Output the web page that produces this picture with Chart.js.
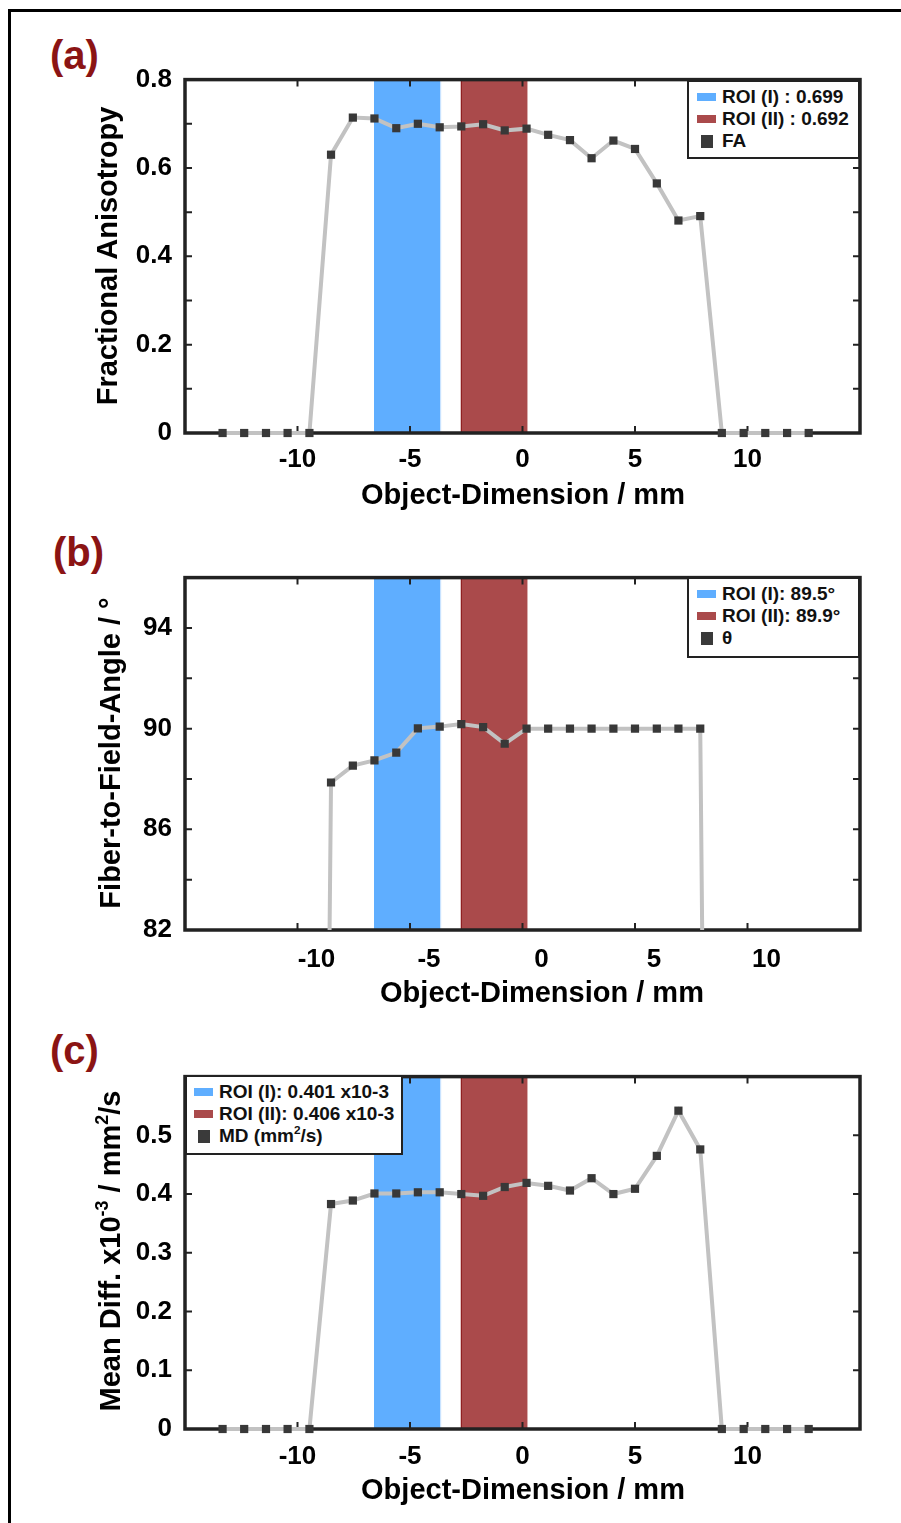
<!DOCTYPE html>
<html>
<head>
<meta charset="utf-8">
<script src="https://cdn.jsdelivr.net/npm/chart.js@4.4.1/dist/chart.umd.min.js"></script>
<style>
html, body { margin: 0; padding: 0; background: #fff; }
body { width: 901px; height: 1523px; position: relative; overflow: hidden;
       font-family: "Liberation Sans", Arial, sans-serif; font-weight: bold; color: #000; }
#frame { position: absolute; left: 8px; top: 9px; width: 900px; height: 1520px;
         border-left: 3px solid #000; border-top: 3px solid #000; }
canvas { position: absolute; left: 0; }
.tag { position: absolute; color: #8b1414; font-size: 40px; line-height: 40px; }
.ytitle { position: absolute; font-size: 29px; white-space: nowrap; transform: translate(-50%, -50%) rotate(-90deg); }
.xtitle { position: absolute; font-size: 29px; white-space: nowrap; transform: translate(-50%, -50%); }
.legend { position: absolute; background: #fff; border: 2.5px solid #222; box-sizing: border-box;
          font-size: 19px; color: #111; }
.legend .row { position: absolute; left: 0; height: 22px; line-height: 22px; white-space: nowrap; }
.legend .patch { position: absolute; }
.legend .txt { position: absolute; top: 0; }
sup { font-size: 62%; vertical-align: 0; position: relative; top: -0.65em; }
</style>
</head>
<body>
<div id="frame"></div>

<div class="tag" style="left:50px; top:35px;">(a)</div>
<div class="tag" style="left:53px; top:532px;">(b)</div>
<div class="tag" style="left:50px; top:1030px;">(c)</div>

<canvas id="chartA" width="901" height="432" style="top:51px;"></canvas>
<canvas id="chartB" width="901" height="431" style="top:549px;"></canvas>
<canvas id="chartC" width="901" height="431" style="top:1048px;"></canvas>

<div class="ytitle" style="left:107px; top:256px;">Fractional Anisotropy</div>
<div class="ytitle" style="left:110px; top:753px;">Fiber-to-Field-Angle / °</div>
<div class="ytitle" style="left:110px; top:1251px;">Mean Diff. x10<sup>-3</sup> / mm<sup>2</sup>/s</div>

<div class="xtitle" style="left:523px; top:494px;">Object-Dimension / mm</div>
<div class="xtitle" style="left:542px; top:992px;">Object-Dimension / mm</div>
<div class="xtitle" style="left:523px; top:1489px;">Object-Dimension / mm</div>

<div id="legendA" class="legend" style="left:687px; top:80px; width:173px; height:79px;"></div>
<div id="legendB" class="legend" style="left:687px; top:577px; width:173px; height:81px;"></div>
<div id="legendC" class="legend" style="left:185px; top:1075px; width:218px; height:80px;"></div>

<script>
// positions along the profile (mm), shared by all three panels
const xPositions = [-13.33, -12.37, -11.40, -10.44, -9.47, -8.51, -7.54, -6.58, -5.61, -4.65,
                    -3.68, -2.72, -1.75, -0.79, 0.18, 1.14, 2.11, 3.07, 4.04, 5.00,
                    5.97, 6.93, 7.90, 8.86, 9.83, 10.79, 11.76, 12.72];

const faValues = [0, 0, 0, 0, 0, 0.630, 0.714, 0.712, 0.690, 0.700,
                  0.692, 0.694, 0.699, 0.685, 0.689, 0.675, 0.663, 0.622, 0.662, 0.643,
                  0.565, 0.481, 0.491, 0, 0, 0, 0, 0];

const thetaValues = [0, 0, 0, 0, 0, 87.86, 88.53, 88.74, 89.05, 90.01,
                     90.08, 90.18, 90.06, 89.40, 90.00, 90.00, 90.00, 90.00, 90.00, 90.00,
                     90.00, 90.00, 90.00, 0, 0, 0, 0, 0];

const mdValues = [0, 0, 0, 0, 0, 0.383, 0.389, 0.401, 0.401, 0.403,
                  0.403, 0.400, 0.397, 0.412, 0.419, 0.414, 0.406, 0.427, 0.400, 0.409,
                  0.465, 0.542, 0.476, 0, 0, 0, 0, 0];

// regions of interest (mm)
const roi1Range = [-6.60, -3.62];
const roi2Range = [-2.74, 0.22];

const xTicks = [-10, -5, 0, 5, 10];

const legendA = ["ROI (I) : 0.699", "ROI (II) : 0.692", "FA"];
const legendB = ["ROI (I): 89.5°", "ROI (II): 89.9°", "θ"];
const legendC = ["ROI (I): 0.401 x10-3", "ROI (II): 0.406 x10-3", "MD (mm<sup>2</sup>/s)"];

const BLUE = "#5faeff";
const RED = "#aa4a4b";
const LINE_GRAY = "#c2c2c2";
const MARKER = "#383838";
const FONT = "'Liberation Sans', Arial, sans-serif";

// draws the ROI bands, the axis box and inward tick marks (matlab look)
const matlabAxes = {
	id: "matlabAxes",
	beforeDatasetsDraw(chart, args, opts) {
		const ctx = chart.ctx;
		const a = chart.chartArea;
		const xs = chart.scales.x, ys = chart.scales.y;
		ctx.save();
		(opts.bands || []).forEach(b => {
			const x0 = xs.getPixelForValue(b.range[0]);
			const x1 = xs.getPixelForValue(b.range[1]);
			ctx.fillStyle = b.color;
			ctx.fillRect(x0, a.top, x1 - x0, a.bottom - a.top);
			if (b.edge) {
				ctx.fillStyle = b.edge;
				ctx.fillRect(b.edgeRight ? x1 - 1 : x0, a.top, 1, a.bottom - a.top);
			}
		});
		ctx.strokeStyle = "#222";
		ctx.lineWidth = 2;
		const tl = 7;
		xs.ticks.forEach(t => {
			const px = xs.getPixelForValue(t.value);
			ctx.beginPath();
			ctx.moveTo(px, a.bottom); ctx.lineTo(px, a.bottom - tl);
			ctx.moveTo(px, a.top); ctx.lineTo(px, a.top + tl);
			ctx.stroke();
		});
		ys.ticks.forEach(t => {
			const py = ys.getPixelForValue(t.value);
			ctx.beginPath();
			ctx.moveTo(a.left, py); ctx.lineTo(a.left + tl, py);
			ctx.moveTo(a.right, py); ctx.lineTo(a.right - tl, py);
			ctx.stroke();
		});
		ctx.lineWidth = 3.5;
		ctx.strokeRect(a.left, a.top, a.right - a.left, a.bottom - a.top);
		ctx.restore();
	}
};

function makePanel(id, values, yMin, yMax, yStep, yLabel, clip, xPad, labelOffset) {
	return new Chart(document.getElementById(id), {
		type: "line",
		data: {
			datasets: [{
				data: xPositions.map((x, i) => ({ x: x, y: values[i] })),
				borderColor: LINE_GRAY,
				borderWidth: 4,
				pointStyle: "rect",
				pointRadius: 5.8,
				pointBackgroundColor: MARKER,
				pointBorderWidth: 0,
				tension: 0,
				clip: clip
			}]
		},
		options: {
			responsive: false,
			animation: false,
			layout: { padding: { left: 0, right: 41, top: 20, bottom: 0 } },
			plugins: {
				legend: { display: false },
				tooltip: { enabled: false },
				matlabAxes: {
					bands: [
						{ range: roi1Range, color: BLUE, edge: "#cfe6ff", edgeRight: true },
						{ range: roi2Range, color: RED, edge: "#8a1a1a", edgeRight: false }
					]
				}
			},
			scales: {
				x: {
					type: "linear",
					min: -15, max: 15,
					grid: { display: false, drawTicks: false },
					border: { display: false },
					afterBuildTicks: s => { s.ticks = xTicks.map(v => ({ value: v })); },
					afterFit: s => { s.height = 50; },
					ticks: {
						color: "#000",
						padding: xPad,
						labelOffset: labelOffset,
						maxRotation: 0,
						font: { family: FONT, size: 26, weight: "bold" }
					}
				},
				y: {
					min: yMin, max: yMax,
					grid: { display: false, drawTicks: false },
					border: { display: false },
					afterFit: s => { s.width = 185; },
					ticks: {
						stepSize: yStep,
						color: "#000",
						padding: 13,
						font: { family: FONT, size: 26, weight: "bold" },
						callback: yLabel
					}
				}
			}
		},
		plugins: [matlabAxes]
	});
}

makePanel("chartA", faValues, 0, 0.8, 0.1,
	v => (Math.round(v * 10) % 2 === 0) ? (v === 0 ? "0" : v.toFixed(1)) : "",
	false, 11, 0);

makePanel("chartB", thetaValues, 82, 96, 2,
	v => ((Math.round(v) - 82) % 4 === 0) ? String(Math.round(v)) : "",
	{ left: 10, right: 10, top: 10, bottom: 0 }, 14, 19);

makePanel("chartC", mdValues, 0, 0.6, 0.1,
	v => v > 0.55 ? "" : (v === 0 ? "0" : v.toFixed(1)),
	false, 12, 0);

function fillLegend(id, labels, patchLeft) {
	const box = document.getElementById(id);
	const kinds = [
		{ bg: BLUE, w: 19, h: 8 },
		{ bg: RED, w: 19, h: 8 },
		{ bg: "#3a3a3a", w: 12, h: 13 }
	];
	labels.forEach((lab, i) => {
		const row = document.createElement("div");
		row.className = "row";
		row.style.top = (4 + i * 22) + "px";
		const k = kinds[i];
		const p = document.createElement("span");
		p.className = "patch";
		p.style.background = k.bg;
		p.style.width = k.w + "px";
		p.style.height = k.h + "px";
		p.style.left = (patchLeft + (19 - k.w) / 2) + "px";
		p.style.top = ((22 - k.h) / 2) + "px";
		const t = document.createElement("span");
		t.className = "txt";
		t.style.left = (patchLeft + 25) + "px";
		t.innerHTML = lab;
		row.appendChild(p);
		row.appendChild(t);
		box.appendChild(row);
	});
}

fillLegend("legendA", legendA, 8);
fillLegend("legendB", legendB, 8);
fillLegend("legendC", legendC, 7);
</script>
</body>
</html>
